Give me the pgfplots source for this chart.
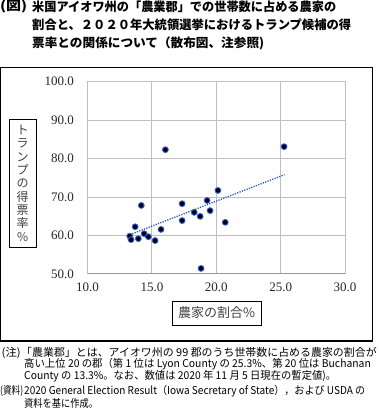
\documentclass[border=0pt]{standalone}
\usepackage{pgfplots}
\pgfplotsset{compat=1.18}
\usepackage{graphicx}
\usepackage{fontspec}
\setmainfont{Liberation Serif}
\newfontfamily\jp{Noto Sans CJK JP}
\definecolor{markblue}{RGB}{45,95,225}
\definecolor{trendblue}{RGB}{40,80,200}
\definecolor{labgray}{RGB}{64,64,64}
\newcommand{\fit}[2]{\resizebox{#1}{\height}{#2}}
\begin{document}
\begin{tikzpicture}
\path[use as bounding box] (0pt,0pt) rectangle (378pt,-418pt);
% title
\begin{scope}[every node/.style={anchor=west, inner sep=0pt, font=\jp\bfseries\fontsize{12.4}{12.4}\selectfont}]
\node at (0pt,-6.5pt) {\fit{27pt}{(図)}};
\node at (32pt,-6.5pt) {\fit{304pt}{米国アイオワ州の「農業郡」での世帯数に占める農家の}};
\node at (32pt,-25pt) {\fit{319pt}{割合と、２０２０年大統領選挙におけるトランプ候補の得}};
\node at (32pt,-43.3pt) {\fit{232pt}{票率との関係について（散布図、注参照)}};
\end{scope}
% frame
\draw[line width=1.1pt] (0.6pt,-67.7pt) rectangle (372.7pt,-341pt);
\begin{axis}[
  at={(87.5pt,-273.8pt)}, anchor=south west,
  scale only axis, width=257.5pt, height=192.1pt,
  xmin=10, xmax=30, ymin=50, ymax=100,
  xtick={10,15,20,25,30}, ytick={50,60,70,80,90,100},
  major tick length=0pt,
  grid=major, grid style={color=black!25, line width=0.8pt},
  axis line style={color=black!25, line width=0.8pt},
  tick label style={font=\fontsize{13}{13}\selectfont, text=black!85},
  yticklabel style={xshift=-10pt},
  xticklabel style={yshift=-6pt},
  /pgf/number format/.cd, fixed, fixed zerofill, precision=1, assume math mode=true,
]
\addplot[trendblue, line width=1.3pt, dash pattern=on 1.2pt off 1.3pt, no marks] coordinates {(13.3,60.2) (25.3,75.8)};
\addplot[only marks, mark=*, mark size=2.9pt, mark options={fill=black, draw=markblue, line width=0.9pt}] coordinates {
(13.28,59.8) (13.38,58.9) (13.70,62.25) (13.95,59.15) (14.18,67.8)
(14.40,60.45) (14.73,59.65) (15.25,58.65) (15.71,61.55) (16.05,82.3)
(17.35,68.25) (17.35,63.85) (18.29,66.0) (18.75,64.95) (18.82,51.4)
(19.29,69.1) (19.52,66.45) (20.13,71.7) (20.70,63.4) (25.27,83.1)
};
\draw[color=black!40, line width=1pt] (rel axis cs:0,0) -- (rel axis cs:1,0);
\end{axis}
% axis labels
\node[draw, line width=0.8pt, minimum width=27.3pt, minimum height=128pt, inner sep=0pt, align=center, text=labgray, font=\jp\fontsize{12}{13.3}\selectfont] at (22.6pt,-183.3pt) {ト\\ラ\\ン\\プ\\の\\得\\票\\率\\\%};
\node[draw, line width=0.8pt, minimum width=88.7pt, minimum height=24pt, inner sep=0pt, text=labgray, font=\jp\fontsize{13}{13}\selectfont] at (216.7pt,-313pt) {農家の割合\%};
% notes
\begin{scope}[every node/.style={anchor=west, inner sep=0pt, font=\jp\fontsize{10.8}{10.8}\selectfont}]
\node at (1.5pt,-352.7pt) {\fit{19pt}{(注)}};
\node at (21pt,-352.7pt) {\fit{355.5pt}{「農業郡」とは、アイオワ州の 99 郡のうち世帯数に占める農家の割合が}};
\node at (24pt,-364.3pt) {\fit{346.7pt}{高い上位 20 の郡（第 1 位は Lyon County の 25.3\%、第 20 位は Buchanan}};
\node at (24pt,-376.7pt) {\fit{312pt}{County の 13.3\%。なお、数値は 2020 年 11 月 5 日現在の暫定値)。}};
\node at (0pt,-391pt) {\fit{23pt}{(資料)}};
\node at (24pt,-391pt) {\fit{341pt}{2020 General Election Result（Iowa Secretary of State），および USDA の}};
\node at (24pt,-403.3pt) {\fit{74pt}{資料を基に作成。}};
\end{scope}
\end{tikzpicture}
\end{document}
